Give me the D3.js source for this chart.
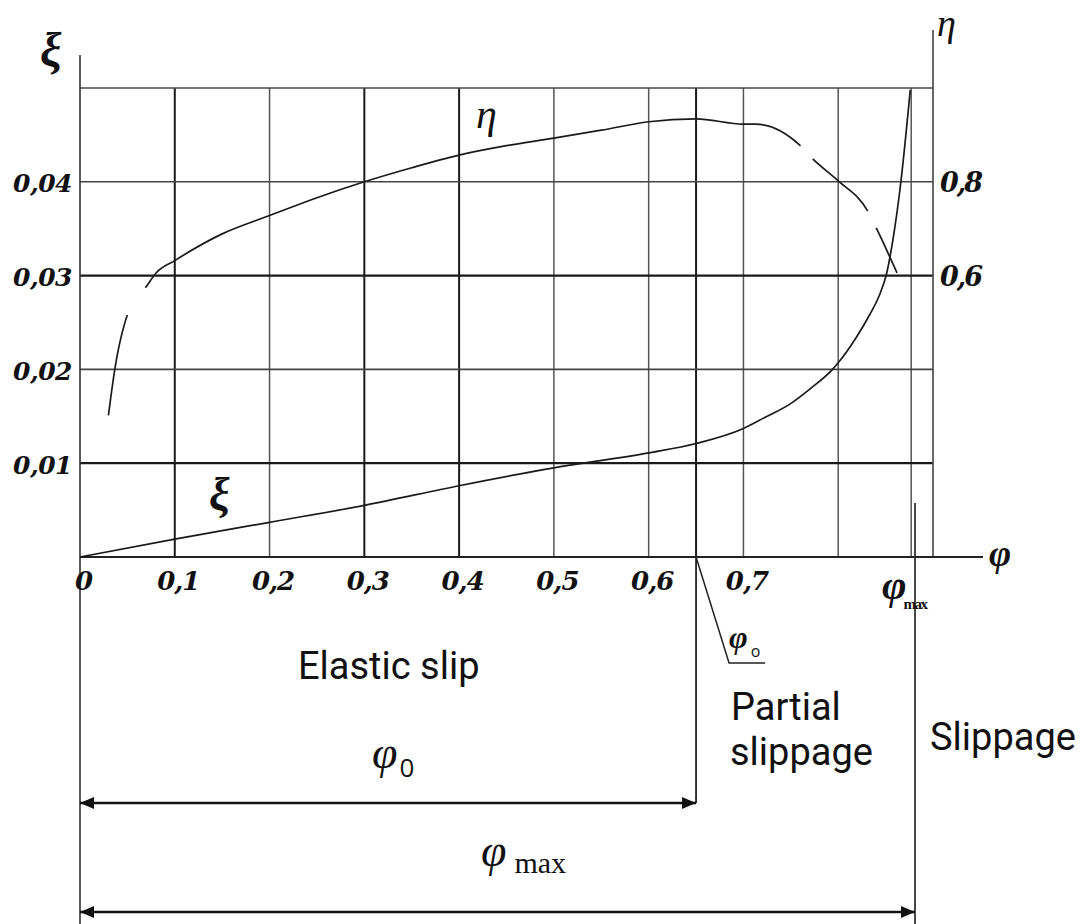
<!DOCTYPE html>
<html><head><meta charset="utf-8">
<script src="https://cdn.jsdelivr.net/npm/d3@7"></script>
<style>body{margin:0;background:#fff}</style>
</head><body>
<svg id="c" width="1086" height="924"></svg>
<script>
// ---------- data ----------
const phiTicks = [0, 0.1, 0.2, 0.3, 0.4, 0.5, 0.6, 0.7];
const phiTickLabels = ["0", "0,1", "0,2", "0,3", "0,4", "0,5", "0,6", "0,7"];
const xiTicks = [0.01, 0.02, 0.03, 0.04];
const xiTickLabels = ["0,01", "0,02", "0,03", "0,04"];
const etaTicks = [0.6, 0.8];
const etaTickLabels = ["0,6", "0,8"];
const phiGrid = [0.1, 0.2, 0.3, 0.4, 0.5, 0.6, 0.65, 0.7, 0.8, 0.877];
const xiGrid = [0.01, 0.02, 0.03, 0.04, 0.05];
const phi0 = 0.65;
const phiMax = 0.881;
const xiPhi = [0, 0.1, 0.2, 0.3, 0.4, 0.5, 0.6, 0.65, 0.7, 0.723, 0.749, 0.77, 0.794, 0.8, 0.819, 0.833, 0.843, 0.851, 0.858, 0.866, 0.876];
const xiVal = [0, 0.0019, 0.0037, 0.0055, 0.0076, 0.0095, 0.0111, 0.0121, 0.0137, 0.0149, 0.0163, 0.0179, 0.0200, 0.0207, 0.0234, 0.0258, 0.0278, 0.0302, 0.0340, 0.0399, 0.0498];
const etaPhi = [0.030, 0.037, 0.048, 0.056, 0.069, 0.080, 0.100, 0.150, 0.200, 0.250, 0.300, 0.350, 0.400, 0.450, 0.500, 0.550, 0.600, 0.650, 0.700, 0.713, 0.760, 0.773, 0.800, 0.831, 0.840, 0.862];
const etaVal = [0.302, 0.404, 0.504, 0.543, 0.574, 0.605, 0.632, 0.689, 0.728, 0.766, 0.800, 0.830, 0.857, 0.877, 0.893, 0.910, 0.928, 0.934, 0.923, 0.923, 0.877, 0.849, 0.802, 0.738, 0.702, 0.606];

// ---------- style ----------
const etaGaps = [[0.050, 0.069], [0.760, 0.773], [0.831, 0.840]];
const heavyPhi = new Set([0.1, 0.3, 0.4, 0.65]);
const heavyXi = new Set([0.01, 0.03]);
const serifBI = "'DejaVu Serif', serif";
const times = "'Liberation Serif', 'Times New Roman', serif";
const sans = "'Open Sans', sans-serif";
const regionFont = "Roboto, 'Open Sans', sans-serif";

const svg = d3.select("#c");
const x = d3.scaleLinear().domain([0, 0.9]).range([80, 933]);
const yXi = d3.scaleLinear().domain([0, 0.05]).range([557, 88]);
const yEta = d3.scaleLinear().domain([0, 1]).range([557, 88]);

// arrow markers
const defs = svg.append("defs");
defs.append("marker").attr("id", "ah").attr("markerUnits", "userSpaceOnUse")
  .attr("viewBox", "0 0 14 12").attr("refX", 14).attr("refY", 6)
  .attr("markerWidth", 14).attr("markerHeight", 12).attr("orient", "auto-start-reverse")
  .append("path").attr("d", "M0,0 L14,6 L0,12 Z").attr("fill", "#111");

// grid
svg.append("g").selectAll("line").data(phiGrid).join("line")
  .attr("x1", d => x(d)).attr("x2", d => x(d))
  .attr("y1", yXi(0.05)).attr("y2", yXi(0))
  .attr("stroke", d => heavyPhi.has(d) ? "#1a1a1a" : "#555")
  .attr("stroke-width", d => heavyPhi.has(d) ? 2 : 1.5);
svg.append("g").selectAll("line").data(xiGrid).join("line")
  .attr("x1", x(0)).attr("x2", x(0.9))
  .attr("y1", d => yXi(d)).attr("y2", d => yXi(d))
  .attr("stroke", d => heavyXi.has(d) ? "#1a1a1a" : "#444")
  .attr("stroke-width", d => heavyXi.has(d) ? 2.2 : 1.6);

// axis lines
svg.append("line").attr("x1", x(0)).attr("x2", x(0)).attr("y1", 55).attr("y2", 924)
  .attr("stroke", "#333").attr("stroke-width", 1.6);
svg.append("line").attr("x1", x(0.9)).attr("x2", x(0.9)).attr("y1", 30).attr("y2", yXi(0))
  .attr("stroke", "#444").attr("stroke-width", 1.6);
svg.append("line").attr("x1", x(0)).attr("x2", 983).attr("y1", yXi(0)).attr("y2", yXi(0))
  .attr("stroke", "#222").attr("stroke-width", 2);

// tick labels via axes
const gx = svg.append("g").attr("transform", `translate(0,${yXi(0)})`)
  .call(d3.axisBottom(x).tickValues(phiTicks).tickFormat((d, i) => phiTickLabels[i]).tickSize(0));
gx.select(".domain").remove();
gx.selectAll("text").attr("y", 33).attr("dy", 0).attr("dx", 3)
  .style("font-family", serifBI).style("font-weight", "bold").style("font-style", "italic")
  .style("font-size", "26px").style("letter-spacing", "-1px").attr("fill", "#111");

const gl = svg.append("g").attr("transform", `translate(${x(0)},0)`)
  .call(d3.axisLeft(yXi).tickValues(xiTicks).tickFormat((d, i) => xiTickLabels[i]).tickSize(0).tickPadding(8));
gl.select(".domain").remove();
gl.selectAll("text").attr("dy", 0).attr("y", 10)
  .style("font-family", serifBI).style("font-weight", "bold").style("font-style", "italic")
  .style("font-size", "25px").style("letter-spacing", "-0.5px").attr("fill", "#111");

const gr = svg.append("g").attr("transform", `translate(${x(0.9)},0)`)
  .call(d3.axisRight(yEta).tickValues(etaTicks).tickFormat((d, i) => etaTickLabels[i]).tickSize(0).tickPadding(7));
gr.select(".domain").remove();
gr.selectAll("text").attr("dy", 0).attr("y", 10)
  .style("font-family", serifBI).style("font-weight", "bold").style("font-style", "italic")
  .style("font-size", "27px").style("letter-spacing", "-2px").attr("fill", "#111");

// curves
const xiData = xiPhi.map((p, i) => ({ p, v: xiVal[i] }));
const etaData = etaPhi.map((p, i) => ({ p, v: etaVal[i] }));
svg.append("path").datum(xiData)
  .attr("d", d3.line().x(d => x(d.p)).y(d => yXi(d.v)).curve(d3.curveMonotoneX))
  .attr("fill", "none").attr("stroke", "#1a1a1a").attr("stroke-width", 1.7);
const etaPath = svg.append("path").datum(etaData)
  .attr("d", d3.line().x(d => x(d.p)).y(d => yEta(d.v)).curve(d3.curveMonotoneX))
  .attr("fill", "none").attr("stroke", "#1a1a1a").attr("stroke-width", 1.7);
{
  const node = etaPath.node(), L = node.getTotalLength();
  const lenAtX = px => { let lo = 0, hi = L; for (let i = 0; i < 40; i++) { const m = (lo + hi) / 2; if (node.getPointAtLength(m).x < px) lo = m; else hi = m; } return lo; };
  const dash = []; let prev = 0;
  etaGaps.forEach(([a, b]) => { const la = lenAtX(x(a)), lb = lenAtX(x(b)); dash.push(la - prev, lb - la); prev = lb; });
  dash.push(L - prev + 5, 0);
  etaPath.attr("stroke-dasharray", dash.join(" "));
}

// text helpers
function txt(xp, yp, s, font, size, opts = {}) {
  return svg.append("text").attr("x", xp).attr("y", yp).text(s)
    .style("font-family", font).style("font-size", size + "px")
    .style("font-style", opts.italic ? "italic" : "normal")
    .style("font-weight", opts.bold ? "bold" : "normal")
    .attr("text-anchor", opts.anchor || "start").attr("fill", "#111");
}
// symbol with subscript as one text element
function sym(xp, yp, main, mFont, mSize, mStyle, sub, sFont, sSize, sStyle, dx, dy) {
  const t = svg.append("text").attr("x", xp).attr("y", yp).attr("fill", "#111");
  t.append("tspan").text(main).style("font-family", mFont).style("font-size", mSize + "px")
    .style("font-style", mStyle.italic ? "italic" : "normal").style("font-weight", mStyle.bold ? "bold" : "normal");
  t.append("tspan").text(sub).attr("dx", dx).attr("dy", dy).style("font-family", sFont).style("font-size", sSize + "px")
    .style("font-style", sStyle.italic ? "italic" : "normal").style("font-weight", sStyle.bold ? "bold" : "normal")
    .style("letter-spacing", sStyle.ls || "0px");
  return t;
}

txt(40, 66, "ξ", times, 48, { italic: true, bold: true });
txt(937, 36, "η", times, 38, { italic: true });
txt(989, 566, "φ", times, 38, { italic: true, bold: true });
txt(476, 128, "η", times, 42, { italic: true });
txt(209, 510, "ξ", times, 46, { italic: true, bold: true });

// phi0 marker near axis
const ax0 = x(phi0);
svg.append("line").attr("x1", ax0).attr("x2", ax0).attr("y1", yXi(0)).attr("y2", 803)
  .attr("stroke", "#222").attr("stroke-width", 1.8);
svg.append("polyline").attr("points", `${ax0},${yXi(0)} ${ax0 + 33},663 ${ax0 + 69},663`)
  .attr("fill", "none").attr("stroke", "#222").attr("stroke-width", 1.5);
sym(ax0 + 33, 648, "φ", times, 32, { italic: true, bold: true }, "o", sans, 16, {}, 3, 9);

// phiMax marker
const axm = x(phiMax);
svg.append("line").attr("x1", axm).attr("x2", axm).attr("y1", 503).attr("y2", 924)
  .attr("stroke", "#333").attr("stroke-width", 1.8);
sym(axm - 33, 599, "φ", times, 42, { italic: true, bold: true }, "max", times, 15, { bold: true, ls: "-1.5px" }, -3, 10);

// region labels
txt(298, 679, "Elastic slip", regionFont, 38);
const ps = svg.append("text").style("font-family", regionFont).style("font-size", "38px").attr("fill", "#111");
ps.append("tspan").attr("x", 731).attr("y", 720).text("Partial");
ps.append("tspan").attr("x", 730).attr("y", 765).text("slippage");
txt(930, 750, "Slippage", regionFont, 38);

// range arrows
svg.append("line").attr("x1", x(0)).attr("x2", ax0).attr("y1", 803).attr("y2", 803)
  .attr("stroke", "#111").attr("stroke-width", 2.5)
  .attr("marker-start", "url(#ah)").attr("marker-end", "url(#ah)");
svg.append("line").attr("x1", x(0)).attr("x2", axm).attr("y1", 912).attr("y2", 912)
  .attr("stroke", "#111").attr("stroke-width", 2.5)
  .attr("marker-start", "url(#ah)").attr("marker-end", "url(#ah)");
sym(372, 768, "φ", times, 46, { italic: true }, "0", sans, 26, {}, 2, 9);
sym(481, 866, "φ", times, 46, { italic: true }, "max", times, 30, {}, 8, 7);
</script>
</body></html>
